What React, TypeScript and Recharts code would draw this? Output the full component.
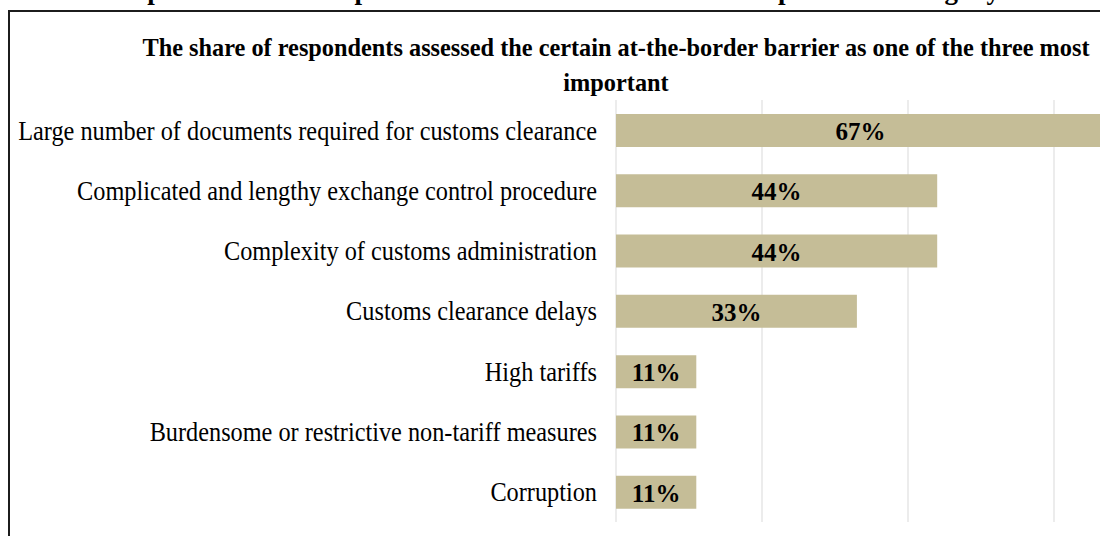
import React from "react";
import { BarChart, Bar, XAxis, YAxis, CartesianGrid, LabelList } from "recharts";

const barriers = [
  "Large number of documents required for customs clearance",
  "Complicated and lengthy exchange control procedure",
  "Complexity of customs administration",
  "Customs clearance delays",
  "High tariffs",
  "Burdensome or restrictive non-tariff measures",
  "Corruption",
];

const shares = [67, 44, 44, 33, 11, 11, 11];

const xTicks = [0, 20, 40, 60, 80];

const data = barriers.map((name, i) => ({ name, share: shares[i] }));

const serif = "'Liberation Serif', 'Times New Roman', serif";

function BarrierTick({ x, y, payload }: any) {
  return (
    <g transform={`translate(${x},${y})`}>
      <text
        transform="scale(0.9,1)"
        textAnchor="end"
        dy="0.35em"
        fontSize={27}
        fontFamily={serif}
        fill="#000"
      >
        {payload.value}
      </text>
    </g>
  );
}

function ShareLabel({ x, y, width, height, value }: any) {
  return (
    <text
      x={x + width / 2}
      y={y + height / 2}
      dy="0.38em"
      textAnchor="middle"
      fontSize={25}
      fontWeight="bold"
      fontFamily={serif}
      fill="#000"
    >
      {value}%
    </text>
  );
}

export default function App() {
  return (
    <div
      style={{
        position: "absolute",
        left: 0,
        top: 0,
        width: 1100,
        height: 536,
        overflow: "hidden",
        background: "#fff",
        fontFamily: serif,
      }}
    >
      {/* caption line from the page above, mostly cut off */}
      <div
        style={{
          position: "absolute",
          top: -23,
          right: 100,
          fontSize: 27,
          lineHeight: "27px",
          fontWeight: "bold",
          whiteSpace: "nowrap",
          color: "#000",
        }}
      >
        Graph 2. The most important at-the-border barriers for exporters in Uruguay
      </div>
      <div
        style={{
          position: "absolute",
          left: 8,
          top: 10,
          width: 1230,
          height: 600,
          border: "2px solid #1c1c1c",
        }}
      />
      <div
        style={{
          position: "absolute",
          left: 10,
          top: 30,
          width: 1212,
          textAlign: "center",
          fontSize: 26,
          lineHeight: "35px",
          fontWeight: "bold",
          color: "#000",
        }}
      >
        <div style={{ transform: "scaleX(0.935)" }}>
          The share of respondents assessed the certain at-the-border barrier as one of the three most
          <br />
          important
        </div>
      </div>
      <div style={{ position: "absolute", left: 0, top: 0 }}>
        <BarChart
          width={1260}
          height={536}
          data={data}
          layout="vertical"
          margin={{ top: 100, right: 60, bottom: 14, left: 0 }}
        >
          <CartesianGrid horizontal={false} stroke="#d9d9d9" />
          <XAxis type="number" domain={[0, 80]} ticks={xTicks} hide />
          <YAxis
            type="category"
            dataKey="name"
            width={616}
            axisLine={false}
            tickLine={false}
            tickMargin={13}
            tick={<BarrierTick />}
            interval={0}
          />
          <Bar dataKey="share" fill="#c5bd97" barSize={33} isAnimationActive={false}>
            <LabelList dataKey="share" content={<ShareLabel />} />
          </Bar>
        </BarChart>
      </div>
    </div>
  );
}
